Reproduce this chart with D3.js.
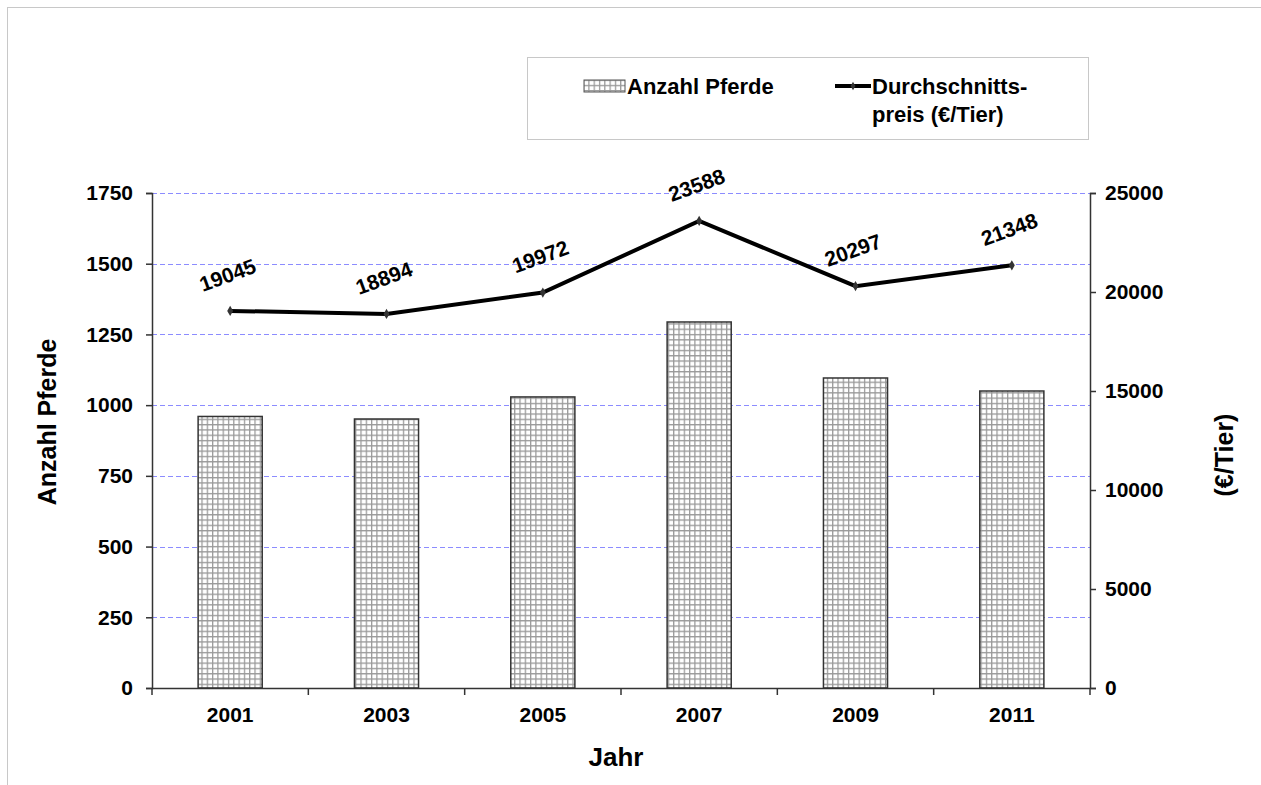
<!DOCTYPE html>
<html><head><meta charset="utf-8">
<script src="https://cdn.jsdelivr.net/npm/d3@7"></script>
<style>body{margin:0;background:#fff}text{font-family:"Liberation Sans",Arial,sans-serif;font-weight:bold;fill:#000}</style>
</head><body>
<svg id="c" width="1261" height="785"></svg>
<script>
const years = ["2001","2003","2005","2007","2009","2011"];
const horses = [960, 951, 1029, 1294, 1096, 1050];
const prices = [19045, 18894, 19972, 23588, 20297, 21348];
const leftTicks = [0,250,500,750,1000,1250,1500,1750];
const rightTicks = [0,5000,10000,15000,20000,25000];

const svg = d3.select("#c");
const L=152, R=1090, T=193, B=688;

svg.append("rect").attr("x",7.5).attr("y",7.5).attr("width",1300).attr("height",800)
  .attr("fill","none").attr("stroke","#c8c8c8").attr("stroke-width",1);

const defs = svg.append("defs");
const pat = defs.append("pattern").attr("id","grid").attr("patternUnits","userSpaceOnUse")
  .attr("width",5.3).attr("height",5.3);
pat.append("rect").attr("width",5.3).attr("height",5.3).attr("fill","#fff");
pat.append("path").attr("d","M0,0.6H5.3M0.6,0V5.3").attr("stroke","#999").attr("stroke-width",1.3);

const x = d3.scaleBand().domain(years).range([L,R]).paddingInner(0.59).paddingOuter(0.295);
const xb = d3.scaleBand().domain(years).range([L,R]);
const y = d3.scaleLinear().domain([0,1750]).range([B,T]);
const y2 = d3.scaleLinear().domain([0,25000]).range([B,T]);

// gridlines
svg.append("g").selectAll("line").data(leftTicks.filter(d=>d>0)).join("line")
  .attr("x1",L).attr("x2",R).attr("y1",d=>Math.round(y(d))+0.5).attr("y2",d=>Math.round(y(d))+0.5)
  .attr("stroke","#8c8cff").attr("stroke-dasharray","5,3").attr("stroke-width",1.2);

// bars
svg.append("g").selectAll("rect").data(horses).join("rect")
  .attr("x",(d,i)=>x(years[i])).attr("width",x.bandwidth())
  .attr("y",d=>y(d)).attr("height",d=>B-y(d))
  .attr("fill","url(#grid)").attr("stroke","#333").attr("stroke-width",1.5);

// axes
const la = svg.append("g").attr("transform",`translate(${L},0)`)
  .call(d3.axisLeft(y).tickValues(leftTicks).tickFormat(d3.format("d")).tickSize(6).tickPadding(13));
const ra = svg.append("g").attr("transform",`translate(${R},0)`)
  .call(d3.axisRight(y2).tickValues(rightTicks).tickFormat(d3.format("d")).tickSize(6).tickPadding(9));
const ba = svg.append("g").attr("transform",`translate(0,${B})`)
  .call(d3.axisBottom(xb).tickSize(0).tickPadding(19));
// category boundary ticks
svg.append("g").selectAll("line").data(d3.range(years.length+1)).join("line")
  .attr("x1",i=>L+i*xb.step()).attr("x2",i=>L+i*xb.step())
  .attr("y1",B).attr("y2",B+7).attr("stroke","#333").attr("stroke-width",1.5);
[la,ra,ba].forEach(g=>{
  g.selectAll(".domain").attr("stroke","#333").attr("stroke-width",1.5);
  g.selectAll(".tick line").attr("stroke","#333").attr("stroke-width",1.5);
  g.selectAll("text").style("font-size","21px").style("font-weight","bold")
   .style("font-family","'Liberation Sans',Arial,sans-serif").attr("fill","#000");
});
ba.select(".domain").attr("d",`M${L},0.5H${R}`);

// line
const cx = i => xb(years[i]) + xb.bandwidth()/2;
svg.append("path").datum(prices)
  .attr("d", d3.line().x((d,i)=>cx(i)).y(d=>y2(d)))
  .attr("fill","none").attr("stroke","#000").attr("stroke-width",4).attr("stroke-linejoin","miter");
svg.append("g").selectAll("path").data(prices).join("path")
  .attr("d", d3.symbol(d3.symbolDiamond, 30))
  .attr("transform",(d,i)=>`translate(${cx(i)},${y2(d)})`).attr("fill","#333");
svg.append("g").selectAll("text").data(prices).join("text")
  .attr("transform",(d,i)=>`translate(${cx(i)},${y2(d)-29}) rotate(-20)`)
  .attr("text-anchor","middle").style("font-size","21px").text(d=>d);

// titles
svg.append("text").attr("transform","translate(56,422) rotate(-90)")
  .attr("text-anchor","middle").style("font-size","25px").text("Anzahl Pferde");
svg.append("text").attr("transform","translate(1233,455) rotate(-90)")
  .attr("text-anchor","middle").style("font-size","25px").text("(€/Tier)");
svg.append("text").attr("x",616).attr("y",766).attr("text-anchor","middle")
  .style("font-size","26px").text("Jahr");

// legend
const lg = svg.append("g");
lg.append("rect").attr("x",527.5).attr("y",57.5).attr("width",561).attr("height",82)
  .attr("fill","#fff").attr("stroke","#c8c8c8");
lg.append("rect").attr("x",584).attr("y",80).attr("width",41).attr("height",12)
  .attr("fill","url(#grid)").attr("stroke","#555").attr("stroke-width",1);
lg.append("text").attr("x",627).attr("y",94).style("font-size","22px").text("Anzahl Pferde");
lg.append("line").attr("x1",835).attr("x2",871).attr("y1",86).attr("y2",86)
  .attr("stroke","#000").attr("stroke-width",4);
lg.append("path").attr("d",d3.symbol(d3.symbolDiamond,20)).attr("transform","translate(853,86)").attr("fill","#333");
lg.append("text").attr("x",872).attr("y",94).style("font-size","22px").text("Durchschnitts-");
lg.append("text").attr("x",872).attr("y",122).style("font-size","22px").text("preis (€/Tier)");
</script>
</body></html>
